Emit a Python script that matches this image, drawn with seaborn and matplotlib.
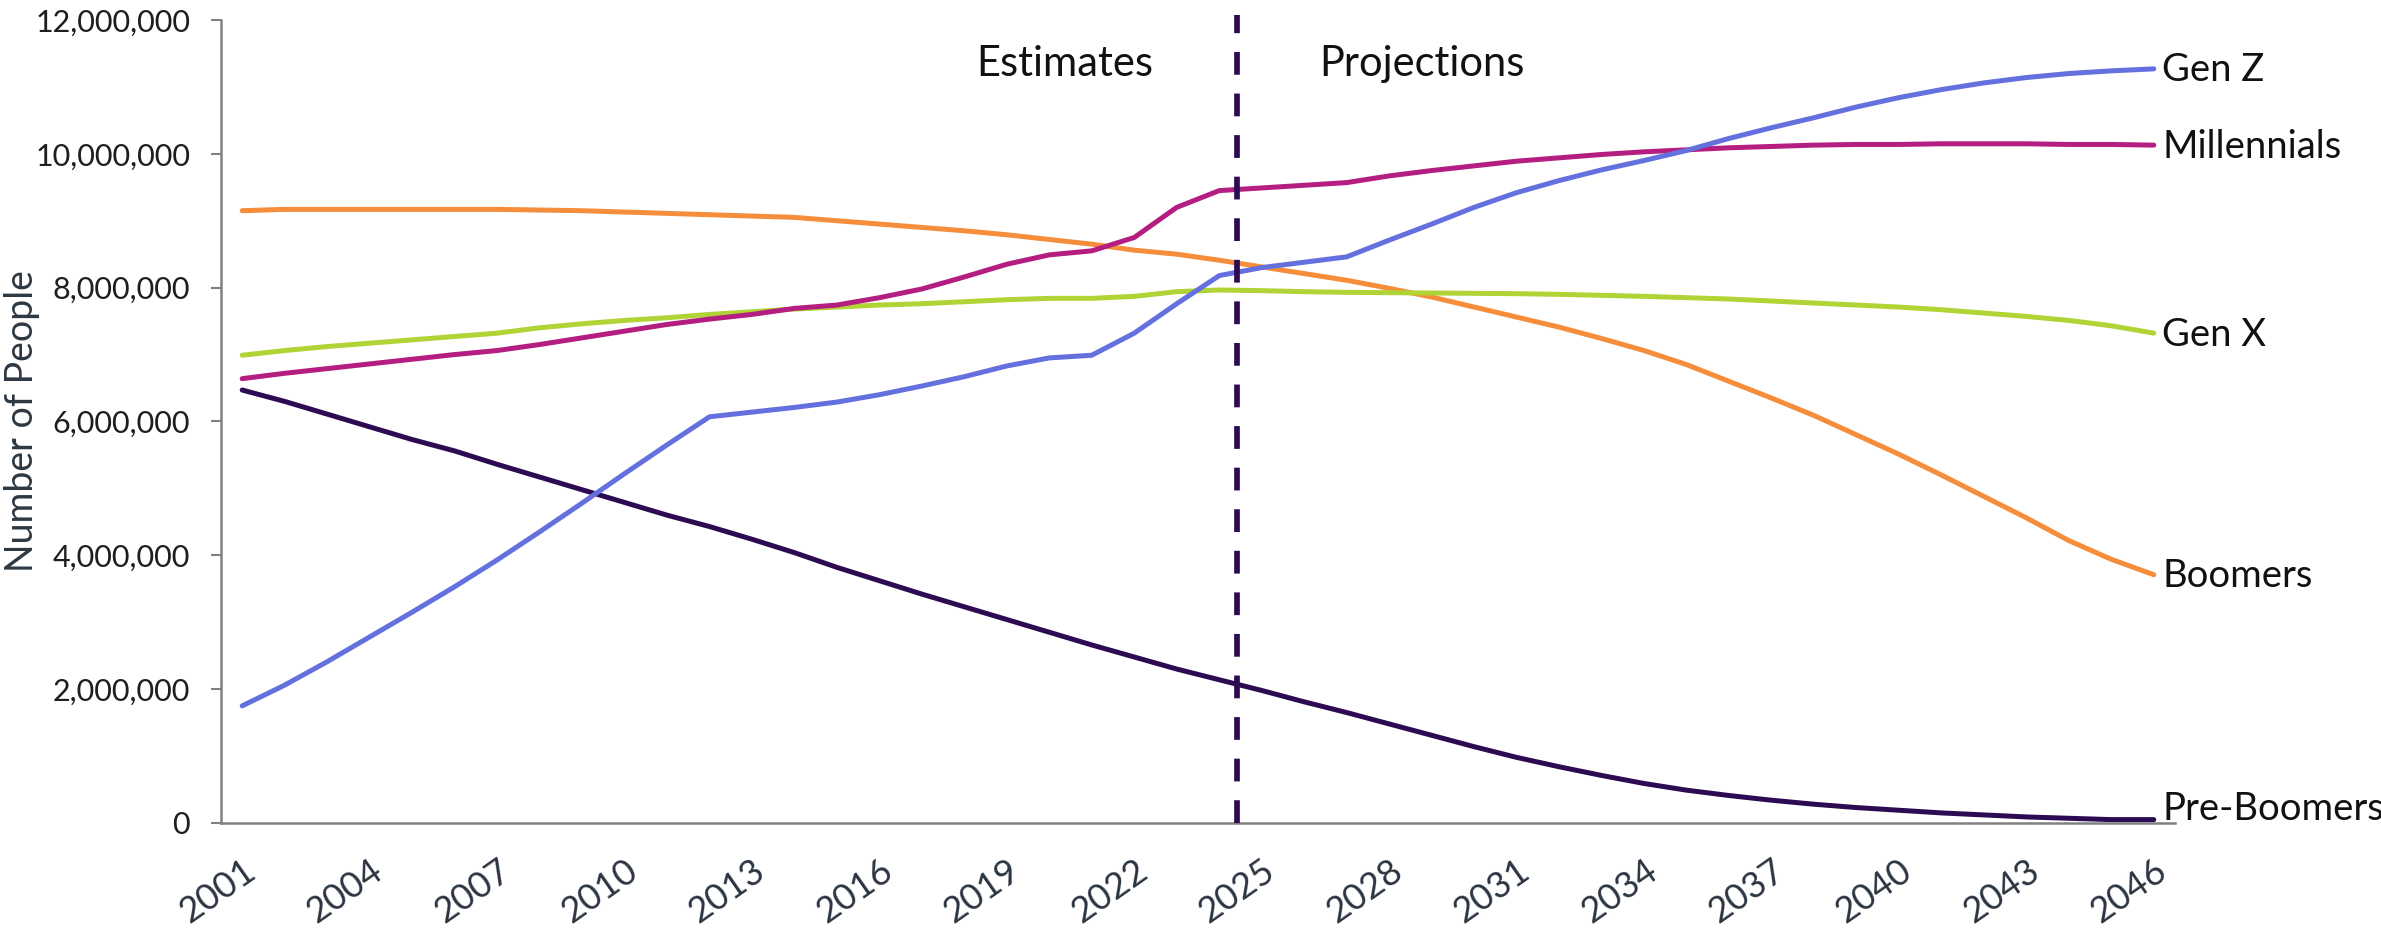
import matplotlib
matplotlib.use("Agg")
import matplotlib.pyplot as plt
import seaborn as sns
import pandas as pd
import numpy as np
from matplotlib.ticker import FuncFormatter, FixedLocator

# ---- data (people, in millions) ----
years = list(range(2001, 2047))

pre_boomers = [6.47, 6.30, 6.11, 5.92, 5.73, 5.56, 5.36, 5.17, 4.98, 4.79,
               4.60, 4.43, 4.24, 4.04, 3.82, 3.62, 3.42, 3.23, 3.04, 2.85,
               2.66, 2.48, 2.30, 2.14, 1.98, 1.81, 1.65, 1.48, 1.31, 1.14,
               0.98, 0.84, 0.71, 0.59, 0.49, 0.41, 0.34, 0.28, 0.23, 0.19,
               0.15, 0.12, 0.09, 0.07, 0.05, 0.05]

boomers = [9.15, 9.17, 9.17, 9.17, 9.17, 9.17, 9.17, 9.16, 9.15, 9.13,
           9.11, 9.09, 9.07, 9.05, 9.00, 8.95, 8.90, 8.85, 8.79, 8.72,
           8.65, 8.56, 8.50, 8.41, 8.31, 8.21, 8.11, 7.99, 7.86, 7.71,
           7.56, 7.41, 7.24, 7.06, 6.85, 6.60, 6.35, 6.09, 5.80, 5.51,
           5.20, 4.88, 4.56, 4.22, 3.94, 3.71]

gen_x = [6.99, 7.06, 7.12, 7.17, 7.22, 7.27, 7.32, 7.40, 7.46, 7.51,
         7.55, 7.60, 7.64, 7.68, 7.71, 7.74, 7.76, 7.79, 7.82, 7.84,
         7.84, 7.87, 7.94, 7.965, 7.955, 7.94, 7.93, 7.925, 7.92, 7.915,
         7.91, 7.90, 7.885, 7.87, 7.85, 7.83, 7.80, 7.77, 7.74, 7.71,
         7.67, 7.62, 7.57, 7.51, 7.43, 7.32]

millennials = [6.64, 6.72, 6.79, 6.86, 6.93, 7.00, 7.06, 7.15, 7.25, 7.35,
               7.45, 7.53, 7.60, 7.69, 7.74, 7.85, 7.98, 8.16, 8.35, 8.49,
               8.55, 8.75, 9.20, 9.45, 9.49, 9.53, 9.57, 9.67, 9.75, 9.82,
               9.89, 9.94, 9.99, 10.03, 10.06, 10.09, 10.11, 10.13, 10.14, 10.14,
               10.15, 10.15, 10.15, 10.14, 10.14, 10.13]

gen_z = [1.75, 2.06, 2.41, 2.78, 3.15, 3.53, 3.93, 4.35, 4.78, 5.22,
         5.65, 6.07, 6.14, 6.21, 6.29, 6.40, 6.53, 6.67, 6.83, 6.95,
         6.99, 7.32, 7.76, 8.18, 8.30, 8.38, 8.46, 8.71, 8.95, 9.20,
         9.42, 9.60, 9.76, 9.90, 10.05, 10.23, 10.39, 10.54, 10.70, 10.84,
         10.96, 11.06, 11.14, 11.20, 11.24, 11.27]

generations = ["Pre-Boomers", "Boomers", "Gen X", "Millennials", "Gen Z"]
series = [pre_boomers, boomers, gen_x, millennials, gen_z]
colors = ["#2C0B52", "#F68D3A", "#B0D335", "#B41E80", "#6370DE"]

year_ticks = list(range(2001, 2047, 3))
y_ticks = [0, 2e6, 4e6, 6e6, 8e6, 10e6, 12e6]
split_year = 2024.42          # boundary between estimates and projections
split_labels = ["Estimates", "Projections"]

# ---- long-form table for seaborn ----
df = pd.DataFrame({
    "Year": np.tile(years, len(generations)),
    "Generation": np.repeat(generations, len(years)),
    "People": np.concatenate([np.array(s) * 1e6 for s in series]),
})
palette = dict(zip(generations, colors))

sns.set_theme(style="white")
plt.rcParams["font.family"] = ["Lato", "DejaVu Sans"]

fig = plt.figure(figsize=(23.81, 9.30), dpi=100)
ax = fig.add_axes([0.0928, 0.1151, 0.8207, 0.8634])

sns.lineplot(data=df, x="Year", y="People", hue="Generation",
             hue_order=generations, palette=palette, estimator=None,
             errorbar=None, legend=False, linewidth=3.6,
             solid_capstyle="round", ax=ax)

# dashed divider between estimates and projections
ax.plot([split_year, split_year], [0, 12.08e6], color="#2C0B52",
        linewidth=4.1, linestyle=(0, (4.0, 3.3)), dash_capstyle="butt",
        clip_on=False, zorder=5)

ax.annotate(split_labels[0], xy=(split_year, 11.16e6), xytext=(-60, 0),
            textcoords="offset points", ha="right", va="baseline",
            fontsize=30, color="#111111")
ax.annotate(split_labels[1], xy=(split_year, 11.16e6), xytext=(59, 0),
            textcoords="offset points", ha="left", va="baseline",
            fontsize=30, color="#111111")

# series names at the end of each line
for name, vals in zip(generations, series):
    dy = 0 if name == "Pre-Boomers" else -9
    ax.annotate(name, xy=(years[-1], vals[-1] * 1e6), xytext=(6, dy),
                textcoords="offset points", ha="left", va="baseline",
                fontsize=27.5, color="#111111", annotation_clip=False)

# axes styling
ax.set_xlim(2000.5, 2046.5)
ax.set_ylim(0, 12e6)
ax.xaxis.set_major_locator(FixedLocator(year_ticks))
ax.xaxis.set_minor_locator(FixedLocator(np.arange(2000.5, 2047, 1.0)))
ax.yaxis.set_major_locator(FixedLocator(y_ticks))
ax.yaxis.set_major_formatter(FuncFormatter(lambda v, p: f"{v:,.0f}"))

ax.tick_params(axis="x", which="major", length=0, pad=22, labelsize=26,
               labelcolor="#2B3440")
ax.tick_params(axis="x", which="minor", length=8.6, width=1.5,
               color="#808080", direction="out")
ax.tick_params(axis="y", which="major", length=7.2, width=1.5,
               color="#808080", direction="out", pad=15, labelsize=22,
               labelcolor="#1E1E1E", left=True)

ax.set_xticklabels([str(y) for y in year_ticks], rotation=35, ha="right",
                   va="top", rotation_mode="anchor")

for side in ["top", "right"]:
    ax.spines[side].set_visible(False)
for side in ["left", "bottom"]:
    ax.spines[side].set_color("#808080")
    ax.spines[side].set_linewidth(1.8)

ax.set_xlabel("")
ax.set_ylabel("Number of People", fontsize=27, color="#2E3842")
ax.yaxis.set_label_coords(-0.0926, 0.5)

fig.savefig("out.png", dpi=100, facecolor="white")
